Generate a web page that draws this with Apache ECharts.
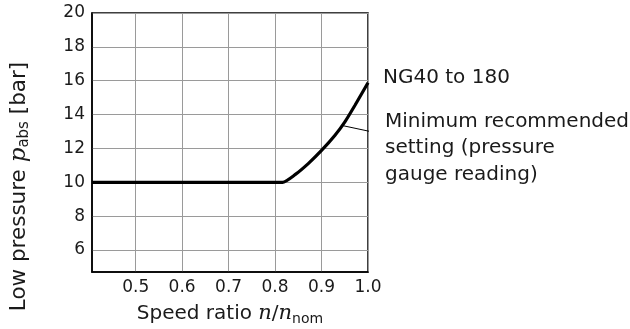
<!DOCTYPE html>
<html>
<head>
<meta charset="utf-8">
<script src="https://cdn.jsdelivr.net/npm/echarts@6/dist/echarts.min.js"></script>
<style>
  html, body { margin: 0; padding: 0; background: #fff; }
  #chart { width: 630px; height: 329px; }
</style>
</head>
<body>
<div id="chart"></div>
<script>
// speed ratio n/n_nom vs low pressure p_abs (bar)
const speedRatio = [0.406, 0.6, 0.816, 0.843, 0.872, 0.9, 0.929, 0.951, 0.972, 1.0]
const lowPressure = [10, 10, 10, 10.45, 11.12, 11.88, 12.78, 13.6, 14.55, 15.88]
const xTicks = [0.5, 0.6, 0.7, 0.8, 0.9, 1.0]
const yTicks = [6, 8, 10, 12, 14, 16, 18, 20]
// leader line from the curve to the note
const leader = [[0.945, 13.35], [1.022, 12.9]]

const chart = echarts.init(document.getElementById('chart'))
const textColor = '#1a1a1a'
const font = 'DejaVu Sans'

chart.setOption({
  animation: false,
  grid: {
    left: 92,
    top: 13,
    right: 262,
    bottom: 57,
    outerBoundsMode: 'none',
    containLabel: false,
    show: true,
    borderColor: '#000',
    borderWidth: 1.5
  },
  xAxis: {
    type: 'value',
    min: 0.406,
    max: 1.0,
    axisLine: { show: true, lineStyle: { color: '#000', width: 1.5 } },
    axisTick: { show: false, customValues: xTicks },
    axisLabel: {
      customValues: xTicks,
      margin: 7,
      color: textColor,
      fontFamily: font,
      fontSize: 17,
      formatter: v => v.toFixed(1)
    },
    splitLine: { show: true, lineStyle: { color: '#9a9a9a', width: 1 } },
    name: '{t|Speed ratio }{i|n}{t|/}{i|n}{s|nom}',
    nameLocation: 'middle',
    nameGap: 30,
    nameTextStyle: {
      rich: {
        t: { fontFamily: font, fontSize: 20, color: textColor },
        i: { fontFamily: 'DejaVu Serif', fontStyle: 'italic', fontSize: 21, color: textColor },
        s: { fontFamily: font, fontSize: 14, color: textColor, padding: [10, 0, 0, 0] }
      }
    }
  },
  yAxis: {
    type: 'value',
    min: 4.7,
    max: 20,
    axisLine: { show: true, lineStyle: { color: '#000', width: 1.5 } },
    axisTick: { show: false, customValues: yTicks },
    axisLabel: {
      customValues: yTicks,
      margin: 7,
      color: textColor,
      fontFamily: font,
      fontSize: 17
    },
    splitLine: { show: true, lineStyle: { color: '#9a9a9a', width: 1 } },
    name: '{t|Low pressure }{i|p}{s|abs}{t| [bar]}',
    nameLocation: 'middle',
    nameGap: 60,
    nameTextStyle: {
      padding: [0, 88, 0, 0],
      rich: {
        t: { fontFamily: font, fontSize: 21.5, color: textColor },
        i: { fontFamily: 'DejaVu Serif', fontStyle: 'italic', fontSize: 23, color: textColor },
        s: { fontFamily: font, fontSize: 15, color: textColor, padding: [10, 0, 0, 0] }
      }
    }
  },
  series: [
    {
      type: 'line',
      data: speedRatio.map((x, i) => [x, lowPressure[i]]),
      smooth: 0.2,
      showSymbol: false,
      clip: false,
      lineStyle: { color: '#000', width: 3.2 }
    },
    {
      type: 'line',
      data: leader,
      showSymbol: false,
      clip: false,
      silent: true,
      lineStyle: { color: '#000', width: 1 }
    }
  ],
  graphic: [
    {
      type: 'text',
      left: 383,
      top: 68,
      style: { text: 'NG40 to 180', fontFamily: font, fontSize: 20, fill: textColor }
    },
    {
      type: 'text',
      left: 385,
      top: 108,
      style: {
        text: 'Minimum recommended\nsetting (pressure\ngauge reading)',
        fontFamily: font,
        fontSize: 20,
        lineHeight: 26.7,
        fill: textColor
      }
    }
  ]
})
</script>
</body>
</html>
